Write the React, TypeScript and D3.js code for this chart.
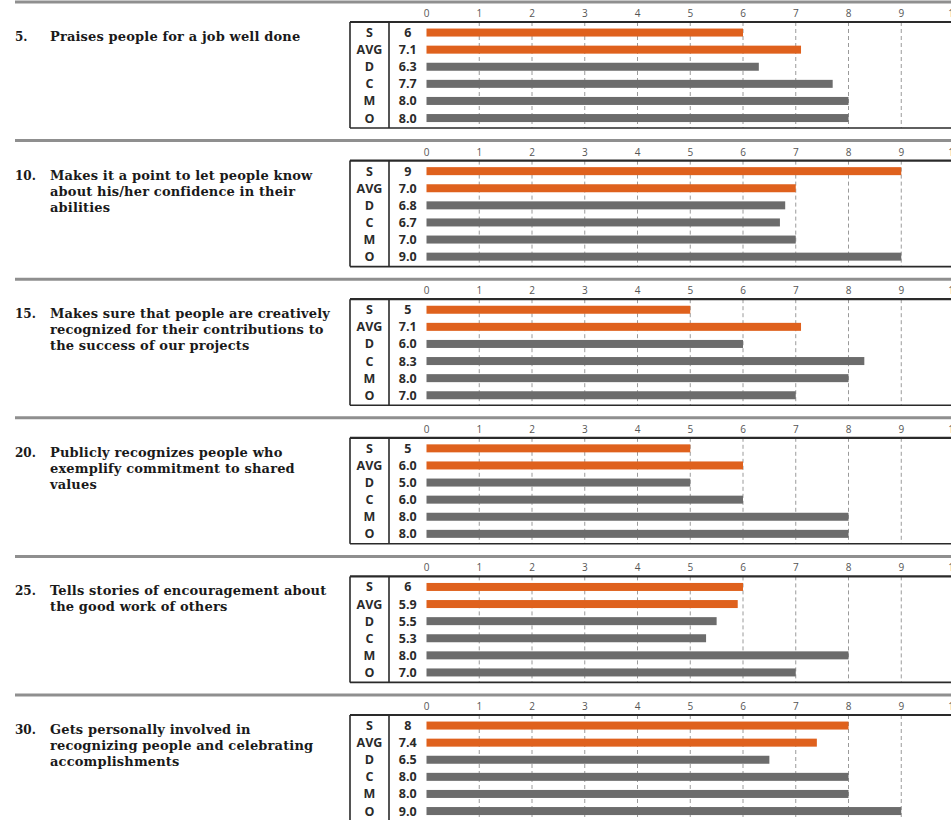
import React from "react";
import * as d3 from "d3";

// Survey items shown in this panel
const questionNumbers = ["5.", "10.", "15.", "20.", "25.", "30."];
const questionLines = [
  ["Praises people for a job well done"],
  ["Makes it a point to let people know", "about his/her confidence in their", "abilities"],
  ["Makes sure that people are creatively", "recognized for their contributions to", "the success of our projects"],
  ["Publicly recognizes people who", "exemplify commitment to shared", "values"],
  ["Tells stories of encouragement about", "the good work of others"],
  ["Gets personally involved in", "recognizing people and celebrating", "accomplishments"],
];

// Respondent groups (rows of each mini chart)
const rowLabels = ["S", "AVG", "D", "C", "M", "O"];

// Scores per group, one entry per item
const selfScores = [6, 9, 5, 5, 6, 8];
const avgScores = [7.1, 7.0, 7.1, 6.0, 5.9, 7.4];
const directScores = [6.3, 6.8, 6.0, 5.0, 5.5, 6.5];
const coworkerScores = [7.7, 6.7, 8.3, 6.0, 5.3, 8.0];
const managerScores = [8.0, 7.0, 8.0, 8.0, 8.0, 8.0];
const otherScores = [8.0, 9.0, 7.0, 8.0, 7.0, 9.0];

const axisTicks = [0, 1, 2, 3, 4, 5, 6, 7, 8, 9, 10];

const W = 951;
const H = 820;
const SECTION_PITCH = 138.6;
const BOX_LEFT = 350;
const DIVIDER_X = 389;

const ORANGE = "#df611d";
const GREY = "#6c6c6c";

const x = d3.scaleLinear().domain([0, 10]).range([426.5, 954]);

export default function App() {
  const groups = [selfScores, avgScores, directScores, coworkerScores, managerScores, otherScores];

  return (
    <svg
      width={W}
      height={H}
      style={{ position: "absolute", left: 0, top: 0, background: "#fff" }}
    >
      {questionNumbers.map((num, qi) => {
        const sepY = 2 + SECTION_PITCH * qi;
        const boxTop = sepY + 20;
        const boxBottom = boxTop + 106;
        const y = d3
          .scaleBand<string>()
          .domain(rowLabels)
          .range([boxTop + 2, boxTop + 104.6]);
        const values = groups.map((g) => g[qi]);
        return (
          <g key={num}>
            {/* section separator */}
            <line x1={15} x2={W} y1={sepY} y2={sepY} stroke="#8f8f8f" strokeWidth={3} />

            {/* question text */}
            <text
              x={15}
              y={boxTop + 19}
              fontFamily="'DejaVu Serif', serif"
              fontWeight="bold"
              fontSize={12}
              fill="#1a1a1a"
            >
              {num}
            </text>
            {questionLines[qi].map((line, li) => (
              <text
                key={li}
                x={50}
                y={boxTop + 19 + li * 16}
                fontFamily="'DejaVu Serif', serif"
                fontWeight="bold"
                fontSize={13}
                letterSpacing={0.15}
                fill="#1a1a1a"
              >
                {line}
              </text>
            ))}

            {/* tick labels */}
            {axisTicks.map((t) => (
              <text
                key={t}
                x={x(t)}
                y={boxTop - 5}
                textAnchor="middle"
                fontFamily="'Open Sans', sans-serif"
                fontSize={10}
                fill="#555"
              >
                {t}
              </text>
            ))}

            {/* dashed gridlines */}
            {axisTicks
              .filter((t) => t > 0 && t < 10)
              .map((t) => (
                <line
                  key={t}
                  x1={x(t)}
                  x2={x(t)}
                  y1={boxTop}
                  y2={boxBottom}
                  stroke="#9a9a9a"
                  strokeWidth={1}
                  strokeDasharray="4,3"
                />
              ))}

            {/* bars */}
            {rowLabels.map((r, ri) => {
              const cy = (y(r) as number) + y.bandwidth() / 2;
              return (
                <rect
                  key={r}
                  x={x(0)}
                  y={cy - 4}
                  width={x(values[ri]) - x(0)}
                  height={8}
                  fill={ri < 2 ? ORANGE : GREY}
                />
              );
            })}

            {/* frame */}
            <line x1={BOX_LEFT} x2={W + 10} y1={boxTop} y2={boxTop} stroke="#2a2a2a" strokeWidth={2.2} />
            <line x1={BOX_LEFT} x2={W + 10} y1={boxBottom} y2={boxBottom} stroke="#2a2a2a" strokeWidth={1.6} />
            <line x1={BOX_LEFT} x2={BOX_LEFT} y1={boxTop} y2={boxBottom} stroke="#2a2a2a" strokeWidth={1.6} />
            <line x1={DIVIDER_X} x2={DIVIDER_X} y1={boxTop} y2={boxBottom} stroke="#2a2a2a" strokeWidth={1.6} />

            {/* row and value labels */}
            {rowLabels.map((r, ri) => {
              const cy = (y(r) as number) + y.bandwidth() / 2;
              const v = values[ri];
              return (
                <g key={r}>
                  <text
                    x={(BOX_LEFT + DIVIDER_X) / 2}
                    y={cy}
                    dy="0.36em"
                    textAnchor="middle"
                    fontFamily="'Open Sans', sans-serif"
                    fontWeight={700}
                    fontSize={12.5}
                    fill="#2a2a2a"
                  >
                    {r}
                  </text>
                  <text
                    x={(DIVIDER_X + x(0)) / 2}
                    y={cy}
                    dy="0.36em"
                    textAnchor="middle"
                    fontFamily="'Open Sans', sans-serif"
                    fontWeight={700}
                    fontSize={12.5}
                    fill="#2a2a2a"
                  >
                    {ri === 0 ? String(v) : v.toFixed(1)}
                  </text>
                </g>
              );
            })}
          </g>
        );
      })}
    </svg>
  );
}
